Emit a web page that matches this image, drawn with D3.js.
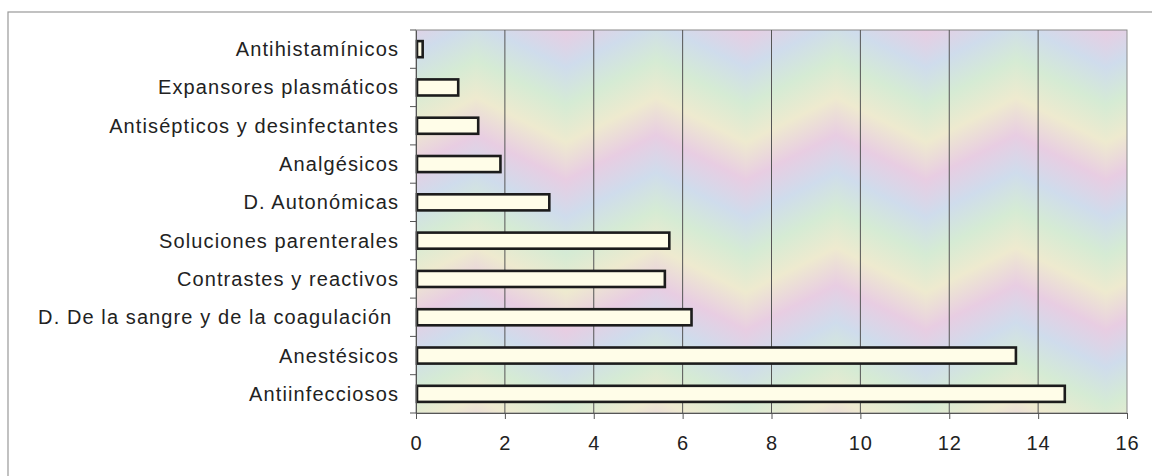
<!DOCTYPE html>
<html><head><meta charset="utf-8">
<script src="https://cdn.jsdelivr.net/npm/d3@7"></script>
<style>
body{margin:0;background:#fff;}
svg text{font-family:"Liberation Sans",Arial,sans-serif;fill:#222;white-space:pre;}
</style></head>
<body><svg id="c" width="1152" height="476"></svg>
<script>
const categories = ["Antihistamínicos","Expansores plasmáticos","Antisépticos y desinfectantes","Analgésicos","D. Autonómicas","Soluciones parenterales","Contrastes y reactivos","D. De la sangre y de la coagulación ","Anestésicos","Antiinfecciosos"];
const values = [0.15, 0.95, 1.4, 1.9, 3.0, 5.7, 5.6, 6.2, 13.5, 14.6];
const xTicks = [0,2,4,6,8,10,12,14,16];

const svg = d3.select("#c");
const L=416, R=1127, T=30, B=413;

svg.append("rect").attr("x",8).attr("y",12).attr("width",1200).attr("height",500)
  .attr("fill","none").attr("stroke","#999").attr("stroke-width",1.2);

const defs = svg.append("defs");
const cols = ["#e8cde2","#cfdcec","#d5ebd4","#eeeacf","#e8cde2"];
function grad(id, x2){
  const g = defs.append("linearGradient").attr("id",id)
    .attr("gradientUnits","userSpaceOnUse")
    .attr("x1",0).attr("y1",0).attr("x2",x2).attr("y2",120).attr("spreadMethod","repeat");
  cols.forEach((c,i)=>g.append("stop").attr("offset",i/(cols.length-1)).attr("stop-color",c));
}
grad("gA", 60); grad("gB", -60);
const pat = defs.append("pattern").attr("id","bg").attr("patternUnits","userSpaceOnUse")
  .attr("x",L-30).attr("y",T).attr("width",180).attr("height",480);
pat.append("rect").attr("x",0).attr("y",0).attr("width",90).attr("height",480).attr("fill","url(#gA)");
const gB = pat.append("g").attr("transform","translate(180,0)");
gB.append("rect").attr("x",-90).attr("y",0).attr("width",90).attr("height",480).attr("fill","url(#gB)");

const x = d3.scaleLinear().domain([0,16]).range([L,R]);
const y = d3.scaleBand().domain(categories).range([T,B]).paddingInner(0.58).paddingOuter(0.29);
const yb = d3.scaleBand().domain(categories).range([T,B]);

svg.append("rect").attr("x",L).attr("y",T).attr("width",R-L).attr("height",B-T)
  .attr("fill","url(#bg)").attr("stroke","#8a8a8a").attr("stroke-width",1);

svg.append("g").selectAll("line").data(xTicks.slice(1,-1)).join("line")
  .attr("x1",d=>x(d)).attr("x2",d=>x(d)).attr("y1",T).attr("y2",B)
  .attr("stroke","#555").attr("stroke-width",1);

svg.append("g").selectAll("rect").data(values).join("rect")
  .attr("x",x(0)+1).attr("y",(d,i)=>y(categories[i]))
  .attr("width",d=>x(d)-x(0)-1).attr("height",y.bandwidth())
  .attr("fill","#fffde8").attr("stroke","#1c1c1c").attr("stroke-width",2.6);

const ya = svg.append("g").attr("transform",`translate(${L},0)`)
  .call(d3.axisLeft(yb).tickSize(0).tickPadding(17));
ya.select(".domain").attr("stroke","#555");
ya.selectAll("text").attr("font-size",20).attr("letter-spacing","1.1px")
  .attr("font-family","Liberation Sans, Arial, sans-serif").attr("fill","#222").attr("dy","0.35em");
svg.append("g").selectAll("line").data(d3.range(categories.length+1)).join("line")
  .attr("x1",L-6).attr("x2",L).attr("y1",i=>T+i*yb.step()).attr("y2",i=>T+i*yb.step())
  .attr("stroke","#555");

const xa = svg.append("g").attr("transform",`translate(0,${B})`)
  .call(d3.axisBottom(x).tickValues(xTicks).tickSize(6).tickPadding(17));
xa.select(".domain").attr("stroke","#555");
xa.selectAll(".tick line").attr("stroke","#555");
xa.selectAll("text").attr("font-size",20).attr("letter-spacing","1px")
  .attr("font-family","Liberation Sans, Arial, sans-serif").attr("fill","#222");
</script></body></html>
